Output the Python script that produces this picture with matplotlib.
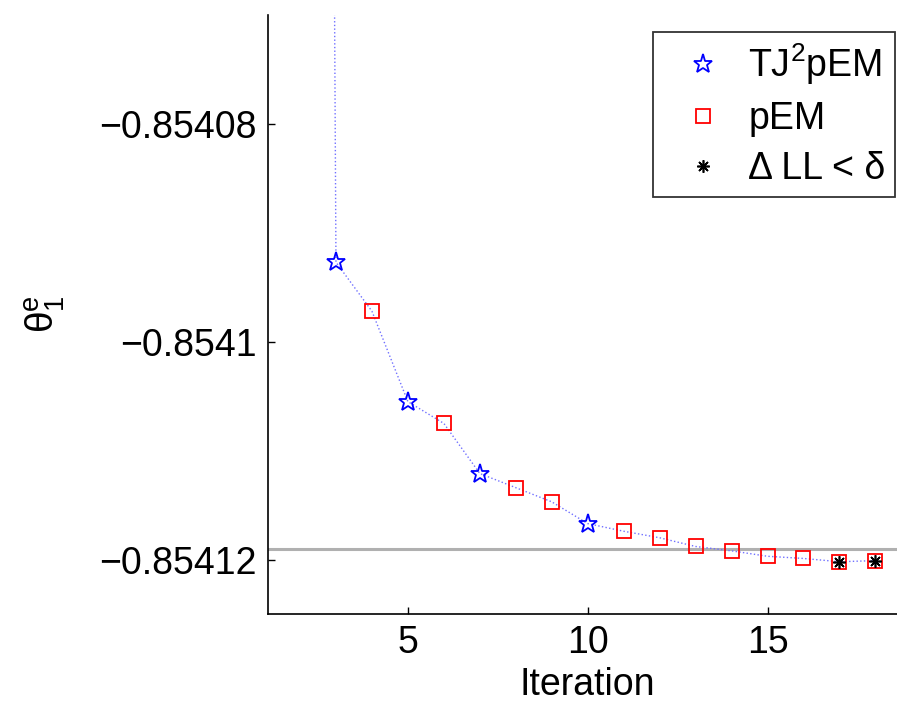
import matplotlib
matplotlib.use("Agg")
import matplotlib.pyplot as plt

plt.rcParams['font.family'] = ['Liberation Sans', 'DejaVu Sans']
plt.rcParams['mathtext.fontset'] = 'custom'
plt.rcParams['mathtext.rm'] = 'Liberation Sans'
plt.rcParams['mathtext.it'] = 'Liberation Sans'

# Data
iterations = [1, 2, 3, 4, 5, 6, 7, 8, 9, 10, 11, 12, 13, 14, 15, 16, 17, 18]
theta = [-0.8520, -0.8535, -0.8540927, -0.8540972, -0.8541055, -0.8541075,
         -0.8541121, -0.8541134, -0.8541147, -0.8541167, -0.8541174,
         -0.8541180, -0.8541188, -0.8541192, -0.8541197, -0.8541199,
         -0.8541202, -0.8541201]
tj_iters = [3, 5, 7, 10]
pem_iters = [4, 6, 8, 9, 11, 12, 13, 14, 15, 16, 17, 18]
conv_iters = [17, 18]
ref_value = -0.8541190
yticks = [-0.85412, -0.8541, -0.85408]
yticklabels = ['\u22120.85412', '\u22120.8541', '\u22120.85408']
xticks = [5, 10, 15]

val = dict(zip(iterations, theta))

fig = plt.figure(figsize=(8.97, 7.04), dpi=100)
ax = fig.add_axes([268/897, 90/704, 1 - 268/897 + 0.01, 599/704])

ax.axhline(ref_value, color='#b0b0b0', lw=2.2, zorder=1)
ax.plot(iterations, theta, ':', color='#7070ff', lw=1.0, zorder=2)
ax.plot(tj_iters, [val[i] for i in tj_iters], linestyle='none', marker='*',
        ms=14, mfc='none', mec='blue', mew=1.3, label='TJ$^2$pEM', zorder=3)
ax.plot(pem_iters, [val[i] for i in pem_iters], linestyle='none', marker='s',
        ms=9.5, mfc='none', mec='red', mew=1.3, label='pEM', zorder=3)
ax.plot(conv_iters, [val[i] for i in conv_iters], linestyle='none', marker=(8, 2, 0),
        ms=9, color='black', mew=1.2, label='\u0394 LL < \u03b4', zorder=4)

ax.set_xlim(1.11, 18.85)
ax.set_ylim(-0.854125, -0.85407)
ax.set_xticks(xticks)
ax.set_xticklabels([str(t) for t in xticks])
ax.set_yticks(yticks)
ax.set_yticklabels(yticklabels)
ax.tick_params(direction='in', length=5, width=1, labelsize=27, pad=8)
ax.spines['top'].set_visible(False)
ax.spines['right'].set_visible(False)
ax.spines['left'].set_linewidth(1.2)
ax.spines['bottom'].set_linewidth(1.2)

ax.set_xlabel('Iteration', fontsize=27, labelpad=4)
ax.set_ylabel('$\\mathregular{\u03b8^e_1}$', fontsize=28)
ax.yaxis.set_label_coords(-0.315, 0.50)

leg = ax.legend(loc='upper right', fontsize=27, frameon=True, fancybox=False,
                edgecolor='black', handlelength=2.2, handletextpad=0.1,
                borderpad=0.25, labelspacing=0.38, borderaxespad=0)
leg.set_bbox_to_anchor((895/897, 1 - 32/704), transform=fig.transFigure)
leg.get_frame().set_linewidth(1.3)

fig.savefig('out.png', dpi=100)
